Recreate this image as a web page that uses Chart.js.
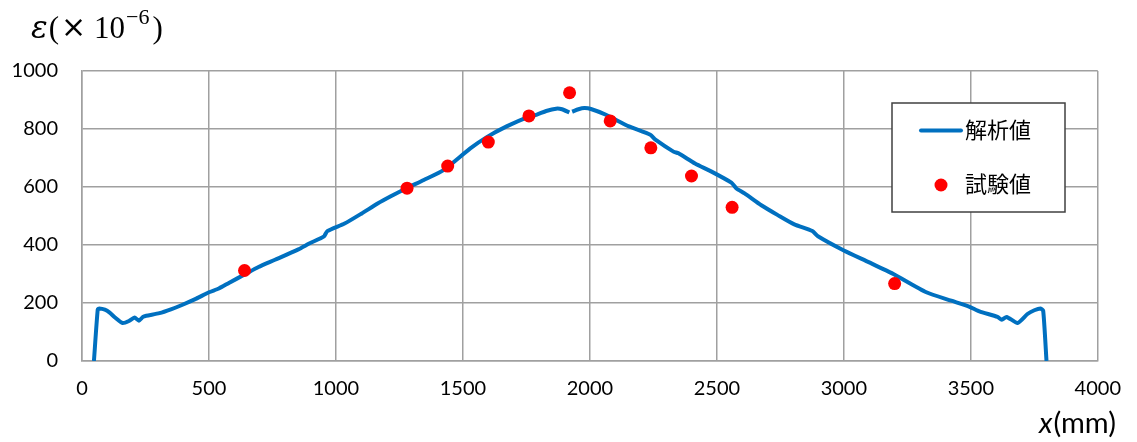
<!DOCTYPE html>
<html>
<head>
<meta charset="utf-8">
<script src="https://cdn.jsdelivr.net/npm/chart.js@4/dist/chart.umd.min.js"></script>
<style>
  html, body { margin: 0; padding: 0; background: #fff; }
  #wrap { width: 1137px; height: 442px; }
</style>
</head>
<body>
<div id="wrap"><canvas id="c" width="1137" height="442"></canvas></div>
<script>
// Analysis curve: position along the member (mm) and strain (×10^-6); null marks the break at mid-span
const analysisX = [47, 62, 68, 90, 109, 130, 160, 185, 207, 224, 240, 253, 305, 350, 396, 450, 500, 539, 580, 640,
  695, 760, 852, 897, 953, 966, 1034, 1100, 1164, 1216, 1276, 1346, 1425, 1529, 1594, 1672, 1760, 1789, 1828, 1867,
  1890, 1919, 1924, 1930, 1955, 1978, 2004, 2063, 2154, 2238, 2258, 2329, 2349, 2414, 2479, 2557, 2577, 2609, 2675,
  2740, 2805, 2876, 2898, 3000, 3100, 3195, 3325, 3423, 3495, 3534, 3605, 3622, 3641, 3684, 3723, 3750, 3775, 3785, 3798];
const analysisY = [0, 178, 181, 177, 167, 150, 131, 138, 150, 139, 152, 156, 165, 178, 194, 215, 237, 250, 270, 298,
  324, 349, 385, 406, 430, 448, 474, 508, 543, 568, 595, 624, 659, 733, 772, 809, 843, 849, 862, 870,
  868, 857, null, 860, 868, 872, 869, 849, 809, 780, 763, 722, 716, 681, 653, 615, 595, 578, 537,
  503, 471, 448, 430, 381, 340, 300, 237, 208, 187, 171, 152, 142, 152, 131, 162, 175, 181, 173, 0];

// Measured strain at the gauge positions
const testX = [640, 1280, 1440, 1600, 1760, 1920, 2080, 2240, 2400, 2560, 3200];
const testY = [312, 596, 672, 755, 845, 925, 828, 735, 638, 530, 267];

// Axis ticks
const xTicks = [0, 500, 1000, 1500, 2000, 2500, 3000, 3500, 4000];
const yTicks = [0, 200, 400, 600, 800, 1000];

const seriesNames = ['解析値', '試験値'];

const toPoints = (xs, ys) => xs.map((x, i) => ({ x: x, y: ys[i] }));

const BLUE = '#0070C0';
const RED = '#FF0000';
const GRID = '#a0a0a0';
const TICK_FONT = { family: 'Lato, "Open Sans", sans-serif', size: 20 };

// Axis titles and the boxed legend drawn on top of the plot
const decorations = {
  id: 'decorations',
  afterDraw(chart) {
    const ctx = chart.ctx;
    ctx.save();
    ctx.fillStyle = '#000';
    ctx.textBaseline = 'alphabetic';

    // y-axis unit: ε(× 10^-6)
    let x = 31;
    const base = 38;
    ctx.font = 'italic 31px "DejaVu Serif", "Liberation Serif", serif';
    ctx.fillText('ε', x, base);
    x += ctx.measureText('ε').width + 1;
    ctx.font = '31px "Liberation Serif", serif';
    ctx.fillText('(', x, base);
    x += ctx.measureText('(').width + 2;
    ctx.font = '30px "DejaVu Sans", sans-serif';
    ctx.fillText('×', x, base - 1);
    x += ctx.measureText('×').width + 8;
    ctx.font = '31px "Liberation Serif", serif';
    ctx.fillText('10', x, base);
    x += ctx.measureText('10').width + 1;
    ctx.font = '22px "Liberation Serif", serif';
    ctx.fillText('−6', x, base - 14);
    x += ctx.measureText('−6').width + 3;
    ctx.font = '31px "Liberation Serif", serif';
    ctx.fillText(')', x, base);

    // x-axis title: x(mm)
    let xx = 1039;
    const xb = 433;
    ctx.font = 'italic 29px Lato, "Open Sans", sans-serif';
    ctx.fillText('x', xx, xb);
    xx += ctx.measureText('x').width + 1;
    ctx.font = '29px Lato, "Open Sans", sans-serif';
    ctx.fillText('(mm)', xx, xb);

    // legend box
    const bx = 892, by = 103, bw = 173, bh = 109;
    ctx.fillStyle = '#fff';
    ctx.fillRect(bx, by, bw, bh);
    ctx.strokeStyle = '#404040';
    ctx.lineWidth = 1.5;
    ctx.strokeRect(bx, by, bw, bh);

    const ds = chart.data.datasets;
    ctx.font = '22px "Noto Sans CJK JP", sans-serif';
    ctx.textBaseline = 'middle';

    // line sample
    ctx.strokeStyle = ds[1].borderColor;
    ctx.lineWidth = ds[1].borderWidth;
    ctx.lineCap = 'round';
    ctx.beginPath();
    ctx.moveTo(921, 130.5);
    ctx.lineTo(961, 130.5);
    ctx.stroke();
    ctx.fillStyle = '#000';
    ctx.fillText(ds[1].label, 965, 130);

    // marker sample
    ctx.fillStyle = ds[0].backgroundColor;
    ctx.beginPath();
    ctx.arc(941, 185, ds[0].pointRadius, 0, Math.PI * 2);
    ctx.fill();
    ctx.fillStyle = '#000';
    ctx.fillText(ds[0].label, 965, 184);

    ctx.restore();
  }
};

const plainNumber = v => String(v);

new Chart(document.getElementById('c'), {
  type: 'line',
  data: {
    datasets: [
      {
        label: seriesNames[1],
        data: toPoints(testX, testY),
        showLine: false,
        pointRadius: 6.5,
        pointHoverRadius: 6.5,
        pointBorderWidth: 0,
        backgroundColor: RED,
        borderColor: RED,
        order: 0
      },
      {
        label: seriesNames[0],
        data: toPoints(analysisX, analysisY),
        borderColor: BLUE,
        backgroundColor: BLUE,
        borderWidth: 4,
        pointRadius: 0,
        tension: 0.2,
        spanGaps: false,
        borderCapStyle: 'butt',
        borderJoinStyle: 'round',
        order: 1
      }
    ]
  },
  options: {
    responsive: false,
    animation: false,
    events: [],
    layout: { padding: { top: 71, right: 31, left: 0, bottom: 0 } },
    plugins: {
      legend: { display: false },
      tooltip: { enabled: false },
      title: { display: false }
    },
    scales: {
      x: {
        type: 'linear',
        min: xTicks[0],
        max: xTicks[xTicks.length - 1],
        afterBuildTicks(scale) { scale.ticks = xTicks.map(v => ({ value: v })); },
        afterFit(scale) { scale.height = 81; },
        ticks: { color: '#000', font: TICK_FONT, padding: 16, maxRotation: 0, autoSkip: false, callback: plainNumber },
        grid: { color: GRID, lineWidth: 1.5, drawTicks: false },
        border: { color: GRID, width: 1.5 }
      },
      y: {
        type: 'linear',
        min: yTicks[0],
        max: yTicks[yTicks.length - 1],
        afterBuildTicks(scale) { scale.ticks = yTicks.map(v => ({ value: v })); },
        afterFit(scale) { scale.width = 82; },
        ticks: { color: '#000', font: TICK_FONT, padding: 24, callback: plainNumber },
        grid: { color: GRID, lineWidth: 1.5, drawTicks: false },
        border: { color: GRID, width: 1.5 }
      }
    }
  },
  plugins: [decorations]
});
</script>
</body>
</html>
